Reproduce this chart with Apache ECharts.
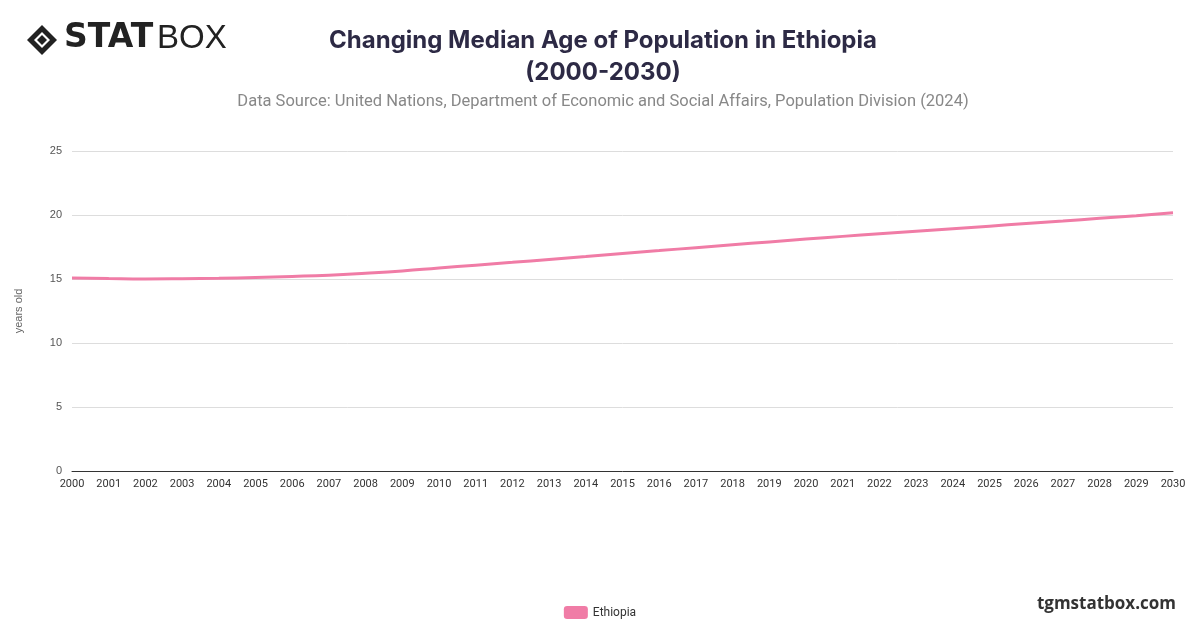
<!DOCTYPE html>
<html><head><meta charset="utf-8">
<script src="https://cdn.jsdelivr.net/npm/echarts@6/dist/echarts.min.js"></script>
<style>html,body{margin:0;padding:0;background:#fff}#c{width:1200px;height:628px}</style>
</head><body><div id="c"></div>
<script>
const years = ['2000','2001','2002','2003','2004','2005','2006','2007','2008','2009','2010','2011','2012','2013','2014','2015','2016','2017','2018','2019','2020','2021','2022','2023','2024','2025','2026','2027','2028','2029','2030'];
const ethiopia = [15.08,15.03,15.0,15.02,15.06,15.12,15.2,15.3,15.45,15.63,15.86,16.08,16.3,16.53,16.76,17.0,17.22,17.45,17.68,17.9,18.12,18.33,18.53,18.73,18.93,19.13,19.33,19.53,19.74,19.95,20.17];
const yTicks = [0,5,10,15,20,25];
const chart = echarts.init(document.getElementById('c'));
chart.setOption({
  animation:false,
  graphic:[
    {type:'group',left:27,top:25,children:[
      {type:'polygon',shape:{points:[[15,0],[30,15],[15,30],[0,15]]},style:{fill:'#222'}},
      {type:'polygon',shape:{points:[[15,7],[23,15],[15,23],[7,15]]},style:{fill:'#fff'}},
      {type:'polygon',shape:{points:[[15,10],[20,15],[15,20],[10,15]]},style:{fill:'#222'}}
    ]},
    {type:'text',left:64,top:22,style:{text:'STAT',font:'900 33px "DejaVu Sans"',fill:'#222'}},
    {type:'text',left:157,top:22,style:{text:'BOX',font:'300 33px "Liberation Sans"',fill:'#222'}},
    {type:'text',right:24,top:596,style:{text:'tgmstatbox.com',font:'bold 17px "Open Sans"',fill:'#333'}}
  ],
  title:{text:'Changing Median Age of Population in Ethiopia\n(2000-2030)',subtext:'Data Source: United Nations, Department of Economic and Social Affairs, Population Division (2024)',
    left:598,top:20,textAlign:'center',itemGap:4,
    textStyle:{fontFamily:'Inter',fontSize:24,fontWeight:'bold',color:'#2d2a45',lineHeight:32},
    subtextStyle:{fontFamily:'Roboto',fontSize:16.5,color:'#888'}},
  legend:{bottom:4,left:'center',itemWidth:24,itemHeight:13,textStyle:{fontFamily:'Roboto',fontSize:12,color:'#333'},data:[{name:'Ethiopia',icon:'roundRect'}]},
  grid:{left:72,right:27,top:151,bottom:157},
  xAxis:{type:'category',data:years,boundaryGap:false,axisLine:{lineStyle:{color:'#333'}},axisTick:{show:false},
    axisLabel:{interval:0,fontSize:11,color:'#333',fontFamily:'Roboto'}},
  yAxis:{type:'value',min:yTicks[0],max:yTicks[yTicks.length-1],interval:5,name:'years old',nameLocation:'middle',nameGap:48,
    nameTextStyle:{fontSize:11,color:'#666'},axisLabel:{fontSize:11,color:'#555',margin:10},splitLine:{lineStyle:{color:'#ddd'}}},
  series:[{name:'Ethiopia',type:'line',data:ethiopia,smooth:true,showSymbol:false,lineStyle:{color:'#f07ca6',width:3},itemStyle:{color:'#f07ca6'}}]
});
</script></body></html>
